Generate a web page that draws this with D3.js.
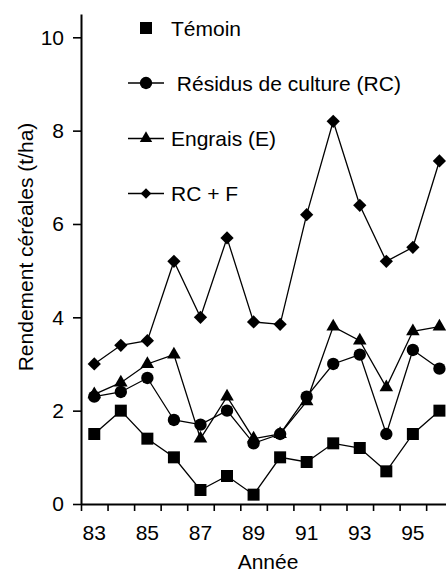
<!DOCTYPE html>
<html>
<head>
<meta charset="utf-8">
<script src="https://cdn.jsdelivr.net/npm/d3@7"></script>
<style>
  body { margin: 0; background: #fff; }
  text { font-family: "Liberation Sans", Arial, sans-serif; fill: #000; }
</style>
</head>
<body>
<div class="chart"></div>
<script>
// Data
var years = [83, 84, 85, 86, 87, 88, 89, 90, 91, 92, 93, 94, 95, 96];
var temoin   = [1.5, 2.0, 1.4, 1.0, 0.3, 0.6, 0.2, 1.0, 0.9, 1.3, 1.2, 0.7, 1.5, 2.0];
var residus  = [2.3, 2.4, 2.7, 1.8, 1.7, 2.0, 1.3, 1.5, 2.3, 3.0, 3.2, 1.5, 3.3, 2.9];
var engrais  = [2.35, 2.6, 3.0, 3.2, 1.4, 2.3, 1.4, 1.5, 2.2, 3.8, 3.5, 2.5, 3.7, 3.8];
var rcf      = [3.0, 3.4, 3.5, 5.2, 4.0, 5.7, 3.9, 3.85, 6.2, 8.2, 6.4, 5.2, 5.5, 7.35];
var seriesNames = ["Témoin", " Résidus de culture (RC)", "Engrais (E)", "RC + F"];
var yTicks = [0, 2, 4, 6, 8, 10];
var xLabelYears = [83, 85, 87, 89, 91, 93, 95];
var xTickYears = [82.5, 83.5, 84.5, 85.5, 86.5, 87.5, 88.5, 89.5, 90.5, 91.5, 92.5, 93.5, 94.5, 95.5];

var svgWidth = 446;
var svgHeight = 574;

var svg = d3.select(".chart")
  .append("svg")
  .attr("width", svgWidth)
  .attr("height", svgHeight);

// Scales
var x = d3.scaleLinear()
  .domain([82.5, 96.5])
  .range([81, 81 + 14 * 26.55]);

var y = d3.scaleLinear()
  .domain([0, 10.5])
  .range([504, 504 - 10.5 * 46.67]);

// Marker shapes, one per series
var markers = [
  { type: d3.symbolSquare, size: 144, rotate: 0 },
  { type: d3.symbolCircle, size: 120, rotate: 0 },
  { type: d3.symbolTriangle, size: 80, rotate: 0 },
  { type: d3.symbolSquare, size: 88, rotate: 45 }
];
var legendMarkers = [
  { type: d3.symbolSquare, size: 144, rotate: 0 },
  { type: d3.symbolCircle, size: 120, rotate: 0 },
  { type: d3.symbolTriangle, size: 66, rotate: 0 },
  { type: d3.symbolSquare, size: 56, rotate: 45 }
];

var allSeries = [temoin, residus, engrais, rcf];

// Axes
var leftAxis = d3.axisLeft(y)
  .tickValues(yTicks)
  .tickSize(8)
  .tickSizeOuter(0)
  .tickPadding(9)
  .tickFormat(d3.format("d"));

var yAxisG = svg.append("g")
  .attr("transform", "translate(81,0)")
  .call(leftAxis);

var bottomAxis = d3.axisBottom(x)
  .tickValues(xTickYears)
  .tickSize(7)
  .tickSizeOuter(0)
  .tickFormat("");

var xAxisG = svg.append("g")
  .attr("transform", "translate(0,504)")
  .call(bottomAxis);

[yAxisG, xAxisG].forEach(function(g) {
  g.select(".domain").attr("stroke", "#000").attr("stroke-width", 2);
  g.selectAll(".tick line").attr("stroke", "#000").attr("stroke-width", 1.6);
  g.selectAll(".tick text")
    .style("font-family", "'Liberation Sans', Arial, sans-serif")
    .style("font-size", "21px")
    .attr("fill", "#000");
});

// x labels sit between the ticks, on the years themselves
svg.append("g").selectAll("text")
  .data(xLabelYears)
  .enter()
  .append("text")
  .attr("x", d => x(d))
  .attr("y", 540)
  .attr("text-anchor", "middle")
  .style("font-size", "21px")
  .text(d => d);

// Lines and markers
var line = d3.line()
  .x((d, i) => x(years[i]))
  .y(d => y(d));

allSeries.forEach(function(values, s) {
  svg.append("path")
    .datum(values)
    .attr("d", line)
    .attr("fill", "none")
    .attr("stroke", "#000")
    .attr("stroke-width", 1.3);

  var m = markers[s];
  svg.append("g").selectAll("path")
    .data(values)
    .enter()
    .append("path")
    .attr("d", d3.symbol().type(m.type).size(m.size))
    .attr("transform", (d, i) => `translate(${x(years[i])},${y(d)}) rotate(${m.rotate})`)
    .attr("fill", "#000");
});

// Legend
var legendY = [28, 83, 138.5, 193.5];
var legend = svg.append("g");
seriesNames.forEach(function(name, s) {
  var row = legend.append("g").attr("transform", `translate(0,${legendY[s]})`);
  if (s > 0) {
    row.append("line")
      .attr("x1", 128).attr("x2", 164)
      .attr("y1", 0).attr("y2", 0)
      .attr("stroke", "#000")
      .attr("stroke-width", 1.3);
  }
  var m = legendMarkers[s];
  row.append("path")
    .attr("d", d3.symbol().type(m.type).size(m.size))
    .attr("transform", `translate(146,0) rotate(${m.rotate})`)
    .attr("fill", "#000");
  row.append("text")
    .attr("x", 171)
    .attr("y", 0)
    .attr("dy", "0.36em")
    .style("font-size", "21px")
    .style("white-space", "pre")
    .attr("xml:space", "preserve")
    .text(name);
});

// Axis titles
svg.append("text")
  .attr("x", 268)
  .attr("y", 569)
  .attr("text-anchor", "middle")
  .style("font-size", "21px")
  .text("Année");

svg.append("text")
  .attr("transform", "translate(33,247) rotate(-90)")
  .attr("text-anchor", "middle")
  .style("font-size", "21px")
  .text("Rendement céréales (t/ha)");
</script>
</body>
</html>
